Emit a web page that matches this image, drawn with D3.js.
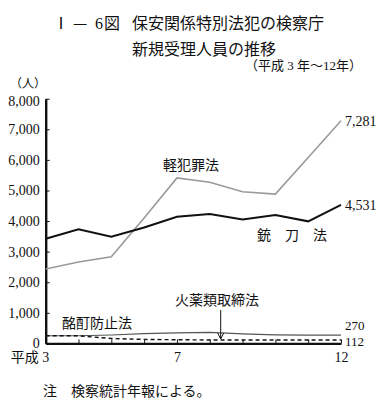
<!DOCTYPE html>
<html>
<head>
<meta charset="utf-8">
<script src="https://cdnjs.cloudflare.com/ajax/libs/d3/7.8.5/d3.min.js"></script>
<style>
  body { margin: 0; background: #fff; }
  svg text { font-family: "Liberation Serif", "Noto Sans CJK JP", serif; fill: #111; }
</style>
</head>
<body>
<div id="chart"></div>
<script>
// data (平成3年〜12年)
var years = [3, 4, 5, 6, 7, 8, 9, 10, 11, 12];
var juto = [3420, 3730, 3490, 3790, 4140, 4230, 4050, 4200, 3990, 4531];       // 銃刀法
var keihanzai = [2430, 2660, 2835, 4100, 5410, 5270, 4960, 4880, 6080, 7281];  // 軽犯罪法
var meitei = [250, 250, 275, 320, 345, 360, 310, 280, 272, 270];              // 酩酊防止法
var kayaku = [250, 250, 160, 130, 120, 112, 110, 110, 110, 112];              // 火薬類取締法
var yTicks = [0, 1000, 2000, 3000, 4000, 5000, 6000, 7000, 8000];
var xLabels = { 3: "平成 3", 7: "7", 12: "12" };

var width = 386,
    height = 407;

var svg = d3.select("#chart")
  .append("svg")
  .attr("width", width)
  .attr("height", height);

var x = d3.scaleLinear().domain([3, 12]).range([45.7, 341]);
var y = d3.scaleLinear().domain([0, 8000]).range([343.4, 98.7]);

// title, pieces placed like the original's wide spacing
var title = svg.append("text")
  .attr("y", 29)
  .style("font-size", "16px");
title.append("tspan").attr("x", 53).style("font-family", "Noto Sans CJK JP").text("Ⅰ");
title.append("tspan").attr("x", 73).style("font-family", "Noto Sans CJK JP").text("—");
title.append("tspan").attr("x", 95).text("6");
title.append("tspan").attr("x", 104).text("図");
title.append("tspan").attr("x", 132).text("保安関係特別法犯の検察庁");

svg.append("text")
  .attr("x", 132).attr("y", 55)
  .style("font-size", "16px")
  .text("新規受理人員の推移");

svg.append("text")
  .attr("x", 362).attr("y", 70)
  .attr("text-anchor", "end")
  .style("font-size", "13px")
  .text("（平成 3 年～12年）");

svg.append("text")
  .attr("x", 28).attr("y", 88)
  .attr("text-anchor", "middle")
  .style("font-size", "12px")
  .text("（人）");

// axes
var yAxis = d3.axisLeft(y)
  .tickValues(yTicks)
  .tickFormat(d3.format(","))
  .tickSizeInner(-4)
  .tickSizeOuter(0)
  .tickPadding(6);

var gy = svg.append("g")
  .attr("transform", "translate(" + x(3) + ",0)")
  .call(yAxis);

gy.selectAll("text").style("font-size", "14px").style("font-family", "Liberation Serif");
gy.selectAll("text")
  .filter(function (d) { return d === 8000; })
  .attr("dy", "0.45em");

var xAxis = d3.axisBottom(x)
  .tickValues(years)
  .tickFormat(function (d) { return xLabels[d] || ""; })
  .tickSizeInner(-4)
  .tickSizeOuter(0)
  .tickPadding(9);

var gx = svg.append("g")
  .attr("transform", "translate(0," + y(0) + ")")
  .call(xAxis);

gx.selectAll("text").style("font-size", "14px");
gx.selectAll("text")
  .filter(function (d) { return d === 3; })
  .attr("text-anchor", "end")
  .attr("dx", 3);

svg.selectAll(".domain").attr("stroke", "#111").attr("stroke-width", 2.4);
svg.selectAll(".tick line").attr("stroke", "#111").attr("stroke-width", 1);

// lines
var line = function (vals) {
  return d3.line()
    .x(function (d, i) { return x(years[i]); })
    .y(function (d) { return y(d); })(vals);
};

svg.append("path")
  .attr("d", line(meitei))
  .attr("fill", "none")
  .attr("stroke", "#555")
  .attr("stroke-width", 1.2);

svg.append("path")
  .attr("d", line(kayaku))
  .attr("fill", "none")
  .attr("stroke", "#111")
  .attr("stroke-width", 1.4)
  .attr("stroke-dasharray", "4,3");

svg.append("path")
  .attr("d", line(keihanzai))
  .attr("fill", "none")
  .attr("stroke", "#9a9a9a")
  .attr("stroke-width", 1.6);

svg.append("path")
  .attr("d", line(juto))
  .attr("fill", "none")
  .attr("stroke", "#111")
  .attr("stroke-width", 2);

// end values
var endLabels = [
  { v: keihanzai[9], t: "7,281", dy: 0, fs: 14 },
  { v: juto[9], t: "4,531", dy: 0, fs: 14 },
  { v: meitei[9], t: "270", dy: -10, fs: 13 },
  { v: kayaku[9], t: "112", dy: 1, fs: 13 }
];

svg.selectAll(".endlabel")
  .data(endLabels)
  .enter().append("text")
  .attr("class", "endlabel")
  .attr("x", x(12) + 4)
  .attr("y", function (d) { return y(d.v) + d.dy; })
  .attr("dy", "0.35em")
  .style("font-size", function (d) { return d.fs + "px"; })
  .text(function (d) { return d.t; });

// series names
svg.append("text")
  .attr("x", 163).attr("y", 170)
  .style("font-size", "14px")
  .text("軽犯罪法");

svg.append("text")
  .attr("x", 257).attr("y", 240)
  .style("font-size", "14px")
  .style("letter-spacing", "14px")
  .text("銃刀法");

svg.append("text")
  .attr("x", 62).attr("y", 328)
  .style("font-size", "14px")
  .text("酩酊防止法");

svg.append("text")
  .attr("x", 175).attr("y", 305)
  .style("font-size", "14px")
  .text("火薬類取締法");

// arrow to 火薬類取締法 line
var ax = 220.7;
svg.append("line")
  .attr("x1", ax).attr("y1", 310)
  .attr("x2", ax).attr("y2", y(kayaku[5]) - 1)
  .attr("stroke", "#111").attr("stroke-width", 1);

svg.append("path")
  .attr("d", "M" + (ax - 3) + "," + (y(kayaku[5]) - 7) + "L" + ax + "," + (y(kayaku[5]) - 1) + "L" + (ax + 3) + "," + (y(kayaku[5]) - 7))
  .attr("fill", "none")
  .attr("stroke", "#111").attr("stroke-width", 1);

// note
svg.append("text")
  .attr("x", 43).attr("y", 396)
  .style("font-size", "14px")
  .text("注　検察統計年報による。");
</script>
</body>
</html>
